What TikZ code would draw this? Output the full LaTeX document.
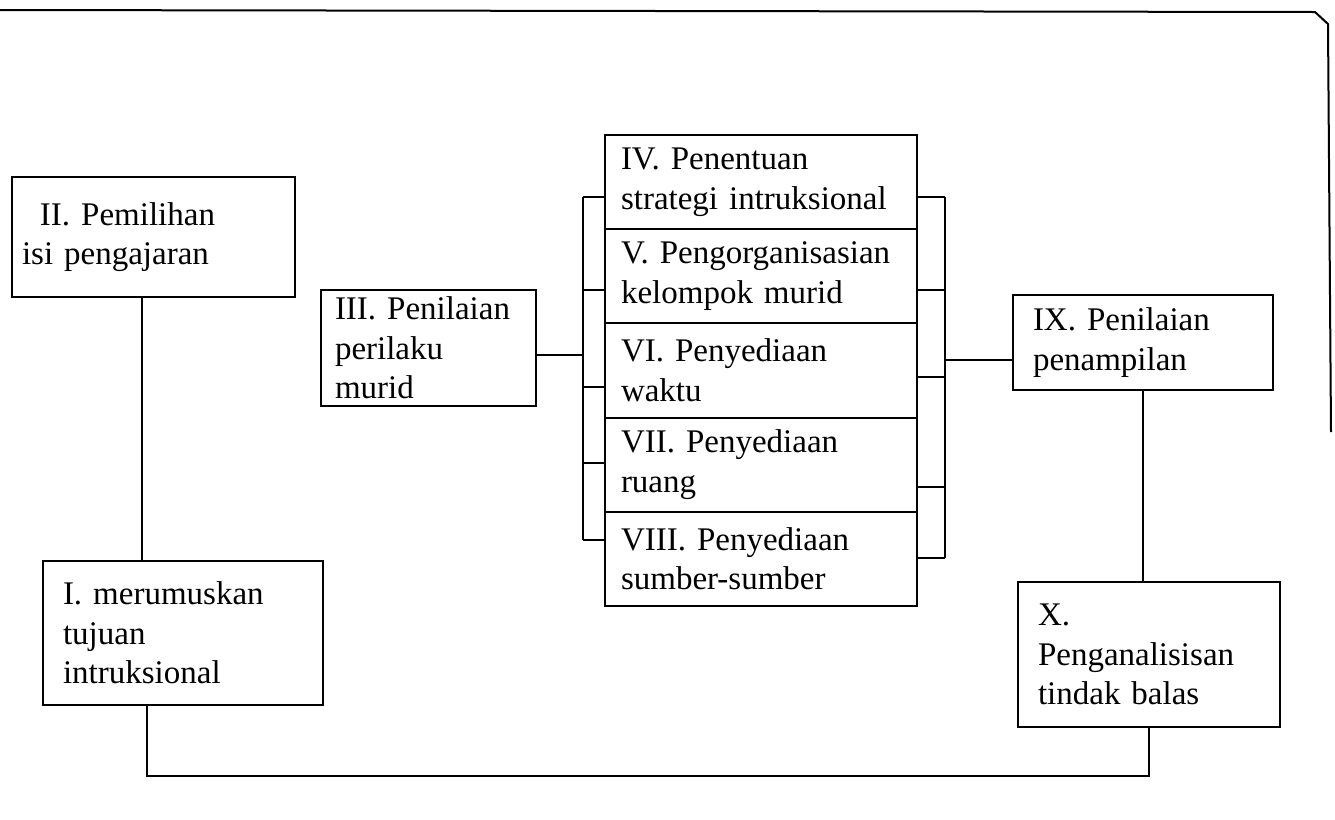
\documentclass[tikz,border=0pt]{standalone}
\usepackage{fontspec}
\setmainfont{Liberation Serif}
\usetikzlibrary{positioning}
\hyphenpenalty=10000
\tikzset{box/.style = {draw, line width=1pt, outer sep=0pt, align=left, inner xsep=8pt, inner ysep=0pt}}
\tikzset{link/.style = {line width=1pt}}

\begin{document}
\begin{tikzpicture}[x=0.5pt, y=-0.5pt, font=\fontsize{16.5}{19.8}\selectfont]
    \useasboundingbox (0,0) rectangle (1335,820);
    % page frame
    \draw[link] (0,10) -- (1315,12) -- (1328,24) -- (1331,432);

    \node[box, inner xsep=5pt, text width=131.5pt, minimum height=60pt] (s2) at (153.5,237) {\hspace{9pt}II. Pemilihan\\isi pengajaran};
    \node[box, inner xsep=10pt, text width=120pt, minimum height=72pt] (s1) at (183,633) {I. merumuskan\\tujuan\\intruksional};
    \node[box, inner xsep=7pt, text width=93.5pt, minimum height=58pt] (s3) at (428.5,348) {III. Penilaian\\perilaku\\murid};

    \node[box, text width=140pt, minimum height=47.1pt] (s4) at (761,182.1) {IV. Penentuan\\strategi intruksional};
    \foreach \n/\m/\txt in {5/4/{V. Pengorganisasian\\kelompok murid},
                            6/5/{VI. Penyediaan\\waktu},
                            7/6/{VII. Penyediaan\\ruang},
                            8/7/{VIII. Penyediaan\\sumber-sumber}}
        \node[box, text width=140pt, minimum height=47.1pt, below=0pt of s\m] (s\n) {\txt};

    \node[box, inner xsep=10pt, text width=110pt, minimum height=47.5pt] (s9) at (1143,342.5) {IX. Penilaian\\penampilan};
    \node[box, inner xsep=10pt, text width=111pt, minimum height=72.5pt] (s10) at (1149,654.5) {X.\\Penganalisisan\\tindak balas};

    % brackets round the stack
    \coordinate (lbar) at (583,0);
    \coordinate (rbar) at (945,0);
    \foreach \n/\dy in {4/-7.45, 5/-6.85, 6/-8.25, 7/0.85, 8/9.45} {
        \coordinate (lt\n) at ([yshift=\dy pt]s\n.west);
        \draw[link] (lt\n) -- (lt\n -| lbar);
    }
    \foreach \n/\dy in {4/-7.45, 5/-6.85, 6/-3.25, 7/-11.15, 8/0.45} {
        \coordinate (rt\n) at ([yshift=\dy pt]s\n.east);
        \draw[link] (rt\n) -- (rt\n -| rbar);
    }
    \draw[link] (lt4 -| lbar) -- (lt8 -| lbar);
    \draw[link] (rt4 -| rbar) -- (rt8 -| rbar);

    \coordinate (c3) at ([yshift=-3.5pt]s3.east);
    \draw[link] (c3) -- (c3 -| lbar);
    \coordinate (c9) at ([yshift=-8.75pt]s9.west);
    \draw[link] (c9) -- (c9 -| rbar);

    \coordinate (c2) at ([xshift=-6pt]s2.south);
    \draw[link] (c2) -- (c2 |- s1.north);
    \draw[link] (s9.south) -- (s9.south |- s10.north);
    \draw[link] ([xshift=-18pt]s1.south) -- ++(0,-35.5pt) -| (s10.south);
\end{tikzpicture}
\end{document}
